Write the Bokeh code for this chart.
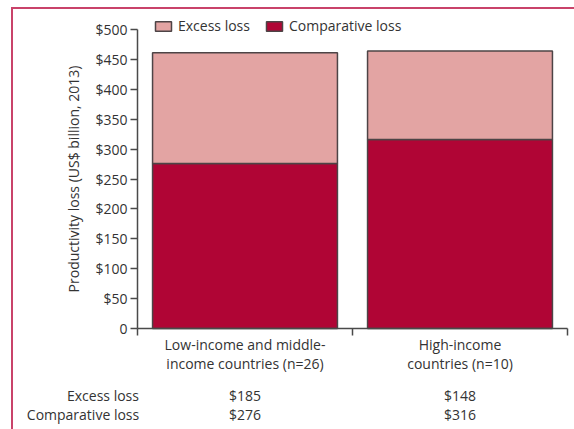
from bokeh.plotting import figure
from bokeh.models import (FixedTicker, Range1d, ColumnDataSource, Legend, LegendItem,
                          LinearAxis, InlineStyleSheet)
from bokeh.embed import file_html
from bokeh.resources import INLINE

# ---- data ----
categories = ["Low-income and middle-\nincome countries (n=26)", "High-income\ncountries (n=10)"]
excess_loss = [185, 148]
comparative_loss = [276, 316]
series_names = ["Excess loss", "Comparative loss"]
y_ticks = [0, 50, 100, 150, 200, 250, 300, 350, 400, 450, 500]
y_tick_labels = ["0", "$50", "$100", "$150", "$200", "$250", "$300", "$350", "$400", "$450", "$500"]
table_rows = ["Excess loss", "Comparative loss"]
excess_labels = ["$185", "$148"]
comparative_labels = ["$276", "$316"]

FONT = "Open Sans"
FS = "14px"
TXT = "#333333"
AX = "#4a4a4a"
C_EXCESS = "#e3a4a3"
C_COMP = "#b00535"
PINK = "#c9436a"

# ---- layout (pixels) ----
W, H = 574, 429
AXIS_X = 137          # y axis position
AXIS_Y = 328          # x axis position (value 0)
Y500 = 29             # position of the 500 tick
X_END = 567           # right end of the x axis

n = len(categories)
xc = [i + 0.5 for i in range(n)]
px_per_cat = (X_END - AXIS_X) / n
px_per_unit = (AXIS_Y - Y500) / 500.0
x_range = Range1d(-AXIS_X / px_per_cat, (W - AXIS_X) / px_per_cat)
y_range = Range1d(-(H - AXIS_Y) / px_per_unit, AXIS_Y / px_per_unit)

src = ColumnDataSource(dict(x=xc, excess=excess_loss, comparative=comparative_loss))

p = figure(width=W, height=H, output_backend="svg", toolbar_location=None,
           x_range=x_range, y_range=y_range, min_border=0,
           min_border_left=0, min_border_right=0, min_border_top=0, min_border_bottom=0)
p.outline_line_color = None
p.xgrid.visible = False
p.ygrid.visible = False

r = p.vbar_stack(["comparative", "excess"], x="x", width=0.86, source=src,
                 fill_color=[C_COMP, C_EXCESS], line_color="#4d4446", line_width=1.5)

# y axis, fixed at x = 0
ya = p.yaxis[0]
ya.fixed_location = 0
ya.ticker = FixedTicker(ticks=y_ticks)
ya.major_label_overrides = {t: l for t, l in zip(y_ticks, y_tick_labels)}
ya.bounds = (0, 500)
ya.axis_line_color = AX
ya.axis_line_width = 1.5
ya.major_tick_line_color = AX
ya.major_tick_line_width = 1.5
ya.major_tick_out = 7
ya.major_tick_in = 0
ya.minor_tick_line_color = None
ya.major_label_text_font = FONT
ya.major_label_text_font_size = FS
ya.major_label_text_color = TXT
ya.major_label_standoff = 3
ya.axis_label = "Productivity loss (US$ billion, 2013)"
ya.axis_label_text_font = FONT
ya.axis_label_text_font_size = FS
ya.axis_label_text_font_style = "normal"
ya.axis_label_text_color = TXT
ya.axis_label_standoff = 9

# x axis, fixed at y = 0
xa = p.xaxis[0]
xa.fixed_location = 0
xa.bounds = (0, n)
xa.ticker = FixedTicker(ticks=xc, minor_ticks=list(range(n + 1)))
xa.major_label_overrides = {x: c for x, c in zip(xc, categories)}
xa.axis_line_color = AX
xa.axis_line_width = 1.5
xa.major_tick_line_color = None
xa.major_tick_out = 0
xa.major_tick_in = 0
xa.minor_tick_line_color = AX
xa.minor_tick_line_width = 1.5
xa.minor_tick_out = 7
xa.minor_tick_in = 0
xa.major_label_text_font = FONT
xa.major_label_text_font_size = FS
xa.major_label_text_color = TXT
xa.major_label_text_line_height = 1.0
xa.major_label_standoff = -1

# table rows below the axis, as extra label-only axes
ROW_RIGHT = 139          # right edge of the row titles (px)
row_title_width = {"Excess loss": 73, "Comparative loss": 113}
for name, vals, standoff in zip(table_rows, [excess_labels, comparative_labels], [57, 76]):
    cx = ROW_RIGHT - row_title_width[name] / 2.0
    t0 = round((cx - AXIS_X) / px_per_cat, 4)
    ax = LinearAxis(ticker=FixedTicker(ticks=[t0] + xc, minor_ticks=[]),
                    major_label_overrides={t0: name, **{x: v for x, v in zip(xc, vals)}},
                    fixed_location=0)
    ax.axis_line_color = None
    ax.major_tick_line_color = None
    ax.minor_tick_line_color = None
    ax.major_tick_out = 0
    ax.major_tick_in = 0
    ax.major_label_standoff = standoff
    ax.major_label_text_font = FONT
    ax.major_label_text_font_size = FS
    ax.major_label_text_color = TXT
    p.add_layout(ax, "below")

legend = Legend(items=[LegendItem(label=series_names[0], renderers=[r[1]]),
                       LegendItem(label=series_names[1], renderers=[r[0]])],
                orientation="horizontal", location=(AXIS_X + 16, H - 23 - 12),
                glyph_width=20, glyph_height=12, label_height=12,
                label_text_font=FONT, label_text_font_size=FS, label_text_color=TXT,
                label_standoff=5, spacing=14, padding=0, margin=0,
                border_line_color=None, background_fill_alpha=0)
p.add_layout(legend)

# page frame lines (top and left)
p.stylesheets = [InlineStyleSheet(css=f"""
:host::after {{
  content: ""; position: absolute; left: 11px; top: 7px;
  width: {W - 11}px; height: {H - 7}px; box-sizing: border-box;
  border-top: 2px solid {PINK}; border-left: 2px solid {PINK};
  pointer-events: none; z-index: 100;
}}
""")]

open("out.html", "w").write(file_html(p, INLINE))
